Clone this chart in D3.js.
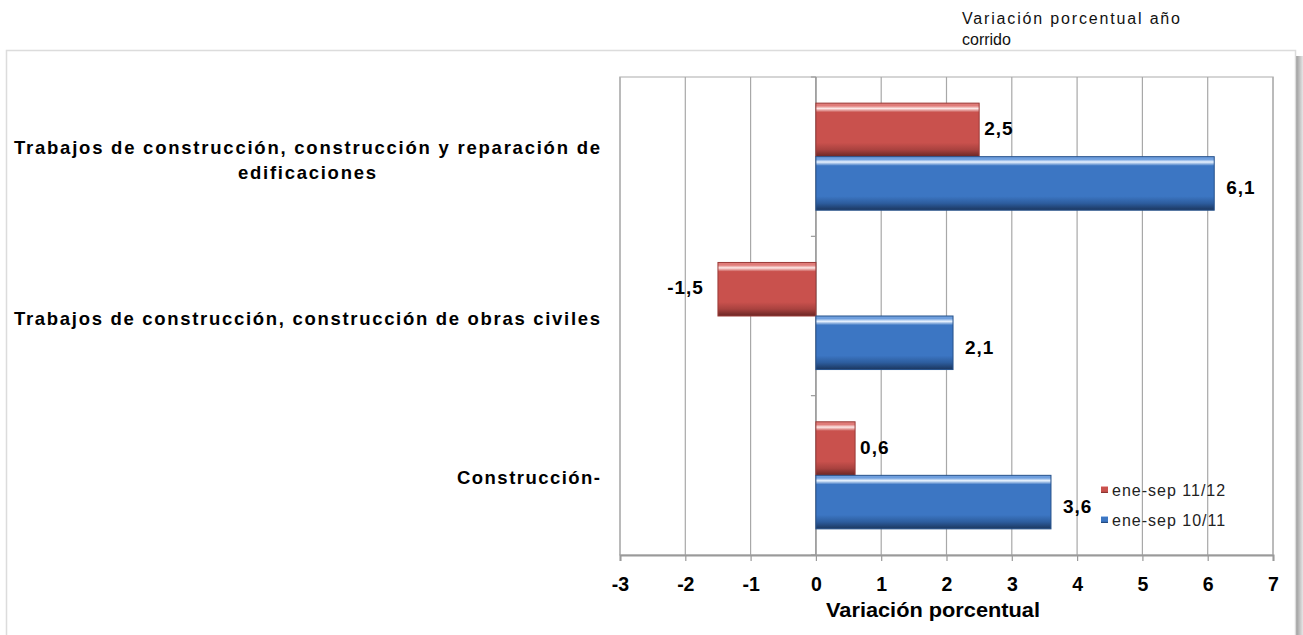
<!DOCTYPE html>
<html lang="es">
<head>
<meta charset="UTF-8" />
<title>Variación porcentual año corrido</title>
<script src="https://d3js.org/d3.v7.min.js"></script>
<style>
  body { margin: 0; background: #ffffff; font-family: "Liberation Sans", Arial, sans-serif; }
  svg { display: block; }
  .cat { font-size: 18.5px; font-weight: bold; fill: #000; }
  .tick-lbl { font-size: 19.5px; font-weight: bold; fill: #000; }
  .val { font-size: 19px; font-weight: bold; fill: #000; }
  .leg { font-size: 16px; fill: #222; letter-spacing: 1px; }
</style>
</head>
<body>
<svg id="chart" width="1303" height="635"></svg>
<script>
// data
const categories = [
  "Trabajos de construcción, construcción y reparación de edificaciones",
  "Trabajos de construcción, construcción de obras civiles",
  "Construcción-"
];
const categoryLines = [
  ["Trabajos de construcción, construcción y reparación de", "edificaciones"],
  ["Trabajos de construcción, construcción de obras civiles"],
  ["Construcción-"]
];
const seriesNames = ["ene-sep 11/12", "ene-sep 10/11"];
const serie1112 = [2.5, -1.5, 0.6];
const serie1011 = [6.1, 2.1, 3.6];
const xTicks = [-3, -2, -1, 0, 1, 2, 3, 4, 5, 6, 7];

// layout: text widths of the wrapped labels as they appear
const labelWidths = [[586, 138], [586], [143]];

const svg = d3.select("#chart");
const W = 1303, H = 635;
const plot = { left: 620, right: 1273, top: 77, bottom: 555 };

const loc = d3.formatLocale({ decimal: ",", thousands: ".", grouping: [3], currency: ["", ""], minus: "-" });
const fmtVal = loc.format(".1f");
const fmtTick = loc.format("d");

// frame + shadow
const defs = svg.append("defs");
const sh = defs.append("linearGradient").attr("id", "shadowR").attr("x1", 0).attr("x2", 1).attr("y1", 0).attr("y2", 0);
sh.append("stop").attr("offset", "0%").attr("stop-color", "#9a9a9a");
sh.append("stop").attr("offset", "100%").attr("stop-color", "#e6e6e6");
svg.append("rect").attr("x", 1296).attr("y", 56).attr("width", 7).attr("height", H - 56).attr("fill", "url(#shadowR)");
svg.append("rect").attr("x", 6.5).attr("y", 50.5).attr("width", 1289).attr("height", H)
  .attr("fill", "#fff").attr("stroke", "#dcdcdc").attr("stroke-width", 1.5);

// top-right note
const note = svg.append("text").attr("x", 962).attr("y", 24).style("font-size", "16px").style("fill", "#111");
note.append("tspan").attr("x", 962).attr("textLength", 218).attr("lengthAdjust", "spacing").text("Variación porcentual año");
note.append("tspan").attr("x", 962).attr("dy", 21).text("corrido");

// scales
const x = d3.scaleLinear().domain([-3, 7]).range([plot.left, plot.right]);
const y0 = d3.scaleBand().domain(categories).range([plot.top, plot.bottom]).paddingInner(0.328).paddingOuter(0.164);
const y1 = d3.scaleBand().domain(seriesNames).range([0, y0.bandwidth()]).padding(0);

// gradients for bevel look
function bevel(id, top, hi, main, low, dark) {
  const g = defs.append("linearGradient").attr("id", id).attr("x1", 0).attr("x2", 0).attr("y1", 0).attr("y2", 1);
  [[0, top], [0.05, top], [0.1, hi], [0.17, main], [0.74, main], [0.87, low], [1, dark]].forEach(([o, c]) =>
    g.append("stop").attr("offset", o).attr("stop-color", c));
}
bevel("gRed", "#e07c79", "#fde8e7", "#c9514d", "#a9423f", "#6a2624");
bevel("gBlue", "#6f9fde", "#eaf4ff", "#3c76c3", "#2d5d9e", "#1b365e");
const fills = { "ene-sep 11/12": "url(#gRed)", "ene-sep 10/11": "url(#gBlue)" };
const strokes = { "ene-sep 11/12": "#9a3a37", "ene-sep 10/11": "#27528b" };

// plot border & gridlines
const g = svg.append("g");
g.append("rect").attr("x", plot.left).attr("y", plot.top).attr("width", plot.right - plot.left).attr("height", plot.bottom - plot.top)
  .attr("fill", "none").attr("stroke", "#c8c8c8").attr("stroke-width", 1.5);
g.selectAll(".grid").data(xTicks).join("line")
  .attr("x1", d => x(d)).attr("x2", d => x(d)).attr("y1", plot.top).attr("y2", plot.bottom)
  .attr("stroke", "#a8a8a8").attr("stroke-width", 1.2);

// x axis
const xAxis = g.append("g").attr("transform", `translate(0,${plot.bottom})`)
  .call(d3.axisBottom(x).tickValues(xTicks).tickFormat(fmtTick).tickSize(6).tickPadding(16));
xAxis.select(".domain").attr("stroke", "#9a9a9a").attr("stroke-width", 2);
xAxis.selectAll(".tick line").attr("stroke", "#9a9a9a").attr("stroke-width", 1.2);
xAxis.selectAll(".tick text").attr("class", "tick-lbl").attr("font-family", null).attr("font-size", null).attr("fill", null);

svg.append("text").attr("x", 933).attr("y", 617).attr("text-anchor", "middle")
  .attr("textLength", 214).attr("lengthAdjust", "spacingAndGlyphs")
  .style("font-size", "20px").style("font-weight", "bold").text("Variación porcentual");

// category axis at zero
const yAxis = g.append("g").attr("transform", `translate(${x(0)},0)`);
yAxis.append("line").attr("x1", 0).attr("x2", 0).attr("y1", plot.top).attr("y2", plot.bottom).attr("stroke", "#9a9a9a").attr("stroke-width", 1.5);
const bounds = [plot.top].concat(categories.map(c => y0(c) + y0.bandwidth() + y0.step() * y0.paddingInner() / 2));
yAxis.selectAll(".yt").data(bounds).join("line")
  .attr("x1", -5).attr("x2", 0).attr("y1", d => d).attr("y2", d => d).attr("stroke", "#9a9a9a").attr("stroke-width", 1.2);

// category labels
categories.forEach((c, i) => {
  const lines = categoryLines[i];
  const cy = y0(c) + y0.bandwidth() / 2;
  const t = svg.append("text").attr("class", "cat");
  if (lines.length === 1) {
    t.attr("text-anchor", "end").attr("x", 600).attr("y", cy + 9)
      .attr("textLength", labelWidths[i][0]).attr("lengthAdjust", "spacing").text(lines[0]);
  } else {
    t.attr("text-anchor", "middle");
    lines.forEach((l, j) => t.append("tspan").attr("x", 307).attr("y", cy - 3 + j * 25)
      .attr("textLength", labelWidths[i][j]).attr("lengthAdjust", "spacing").text(l));
  }
});

// bars
const rows = categories.map((c, i) => ({ cat: c, vals: [
  { s: seriesNames[0], v: serie1112[i] },
  { s: seriesNames[1], v: serie1011[i] }
]}));
const grp = svg.append("g").selectAll("g").data(rows).join("g")
  .attr("transform", d => `translate(0,${y0(d.cat)})`);
grp.selectAll("rect").data(d => d.vals).join("rect")
  .attr("x", d => x(Math.min(0, d.v)))
  .attr("y", d => y1(d.s))
  .attr("width", d => Math.abs(x(d.v) - x(0)))
  .attr("height", y1.bandwidth())
  .attr("fill", d => fills[d.s])
  .attr("stroke", d => strokes[d.s]).attr("stroke-width", 1);
grp.selectAll("text").data(d => d.vals).join("text").attr("class", "val")
  .attr("x", d => d.v < 0 ? x(d.v) - 14 : x(d.v) + (d.s === seriesNames[0] ? 5 : 12))
  .attr("y", d => y1(d.s) + y1.bandwidth() / 2 + (d.s === seriesNames[0] ? -1 : 5) + 6)
  .attr("text-anchor", d => d.v < 0 ? "end" : "start")
  .style("letter-spacing", "1px")
  .text(d => fmtVal(d.v));

// legend
const legend = svg.append("g").attr("transform", "translate(1101,490)");
seriesNames.forEach((s, i) => {
  const lg = legend.append("g").attr("transform", `translate(0,${i * 30})`);
  lg.append("rect").attr("x", 0).attr("y", -4).attr("width", 7).attr("height", 7).attr("fill", fills[s]);
  lg.append("text").attr("class", "leg").attr("x", 11).attr("y", 6).text(s);
});
</script>
</body>
</html>
